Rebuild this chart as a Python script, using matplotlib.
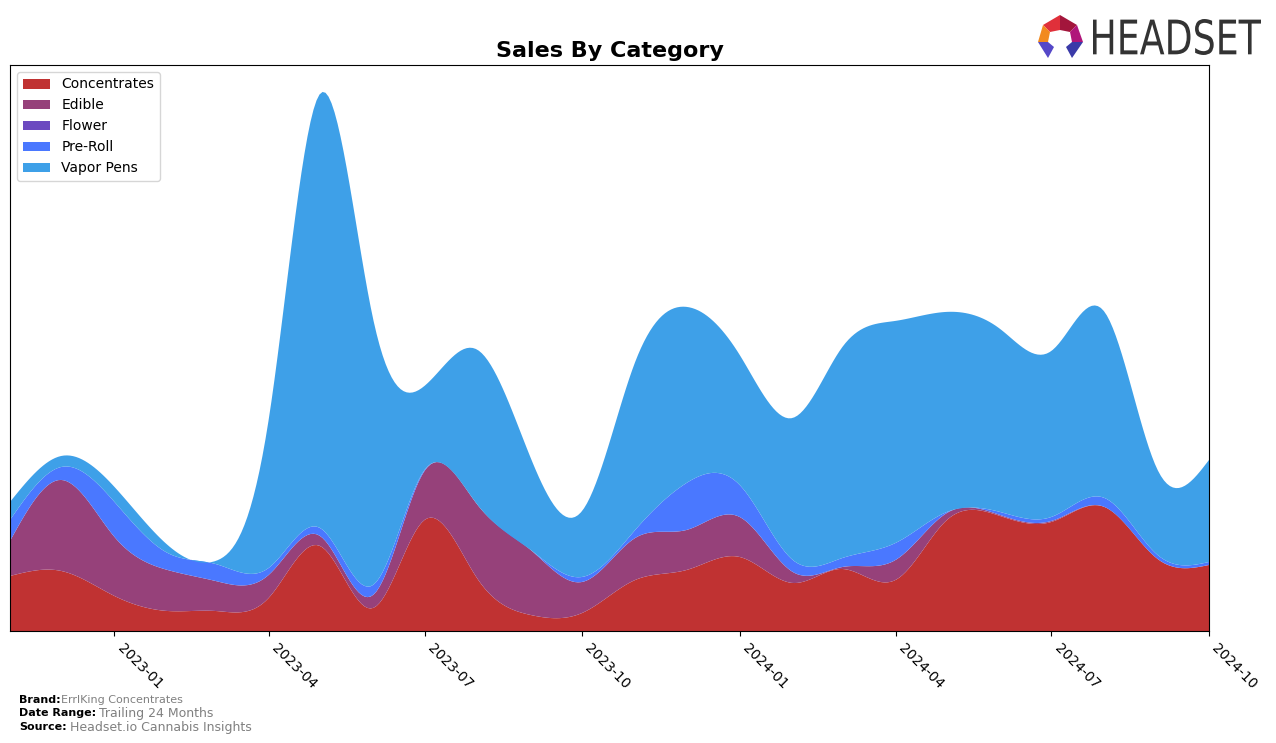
import numpy as np
import matplotlib
matplotlib.use("Agg")
import matplotlib.pyplot as plt
import matplotlib.dates as mdates
from matplotlib.textpath import TextPath
from matplotlib.patches import PathPatch, Polygon
from matplotlib.font_manager import FontProperties
from matplotlib.transforms import Affine2D

# monthly sales (arbitrary units), 2022-11 .. 2024-10
months = np.arange(np.datetime64("2022-11"), np.datetime64("2024-11"), dtype="datetime64[M]")
categories = ["Concentrates", "Edible", "Flower", "Pre-Roll", "Vapor Pens"]
concentrates = [55, 60, 35, 20, 20, 33, 85, 23, 111, 52, 16, 18,
                51, 61, 74, 48, 62, 51, 111, 115, 109, 124, 72, 66]
edible = [35, 91, 59, 41, 30, 23, 10, 13, 49, 74, 65, 31,
          42, 40, 40, 11, 2, 20, 7, 1, 1, 0, 0, 0]
flower = [0] * 24
pre_roll = [21, 13, 35, 17, 17, 7, 8, 10, 1, 0, 0, 5,
            8, 47, 32, 12, 9, 17, 1, 3, 4, 9, 4, 3]
vapor_pens = [18, 11, 15, 8, 3, 148, 434, 266, 84, 155, 92, 66,
              168, 176, 130, 142, 211, 222, 200, 183, 166, 186, 85, 102]
colors = ["#c03232", "#96417a", "#6c4ac0", "#4a78ff", "#3ea0e8"]


def natural_spline(x, y, xs):
    x = np.asarray(x, float)
    y = np.asarray(y, float)
    n = len(x)
    h = np.diff(x)
    A = np.zeros((n, n))
    b = np.zeros(n)
    A[0, 0] = A[-1, -1] = 1
    for i in range(1, n - 1):
        A[i, i - 1] = h[i - 1]
        A[i, i] = 2 * (h[i - 1] + h[i])
        A[i, i + 1] = h[i]
        b[i] = 6 * ((y[i + 1] - y[i]) / h[i] - (y[i] - y[i - 1]) / h[i - 1])
    M = np.linalg.solve(A, b)
    idx = np.clip(np.searchsorted(x, xs) - 1, 0, n - 2)
    x0, x1 = x[idx], x[idx + 1]
    hh = x1 - x0
    t0, t1 = x1 - xs, xs - x0
    return (M[idx] * t0 ** 3 / (6 * hh) + M[idx + 1] * t1 ** 3 / (6 * hh)
            + (y[idx] / hh - M[idx] * hh / 6) * t0
            + (y[idx + 1] / hh - M[idx + 1] * hh / 6) * t1)


xnum = mdates.date2num(months.astype("datetime64[D]"))
xs = np.linspace(xnum[0], xnum[-1], 400)
series = [concentrates, edible, flower, pre_roll, vapor_pens]
smooth = [natural_spline(xnum, s, xs) for s in series]

fig = plt.figure(figsize=(12.76, 7.43), dpi=100)
ax = fig.add_axes([10 / 1276, 1 - 631 / 743, 1199 / 1276, 566 / 743])
ax.stackplot(xs, *smooth, labels=categories, colors=colors)

total = np.sum(smooth, axis=0)
ax.set_xlim(xnum[0], xnum[-1])
ax.set_ylim(0, total.max() * 1.05)
ax.set_yticks([])
ax.xaxis.set_major_locator(mdates.MonthLocator(bymonth=[1, 4, 7, 10]))
ax.xaxis.set_major_formatter(mdates.DateFormatter("%Y-%m"))
for lab in ax.get_xticklabels():
    lab.set_rotation(-45)
    lab.set_ha("left")
ax.tick_params(axis="x", labelsize=10)
ax.set_title("Sales By Category", fontsize=16, fontweight="bold")
ax.legend(loc="upper left", fontsize=10)

# footer
fig.text(19 / 1276, 1 - 700 / 743, "Brand:", fontsize=8, fontweight="bold", va="center")
fig.text(61 / 1276, 1 - 700 / 743, "ErrlKing Concentrates", fontsize=8, color="gray", va="center")
fig.text(19 / 1276, 1 - 713 / 743, "Date Range:", fontsize=8, fontweight="bold", va="center")
fig.text(99 / 1276, 1 - 713 / 743, "Trailing 24 Months", fontsize=9, color="gray", va="center")
fig.text(19 / 1276, 1 - 727 / 743, "Source:", fontsize=8, fontweight="bold", va="center")
fig.text(70 / 1276, 1 - 727 / 743, "Headset.io Cannabis Insights", fontsize=9, color="gray", va="center")

# logo
tp = TextPath((0, 0), "HEADSET", size=40, prop=FontProperties(family="DejaVu Sans"))
bb = tp.get_extents()
sx = 168 / bb.width
sy = 36 / bb.height
tr = Affine2D().translate(-bb.x0, -bb.y0).scale(sx, sy).translate(1093, 743 - 55)
fig.patches.append(PathPatch(tp, transform=tr, color="#333333", lw=0))
icon = [
    ([(1043, 25), (1060, 15), (1060, 30), (1050, 32)], "#e0303a"),
    ([(1060, 15), (1077, 25), (1070, 32), (1060, 30)], "#a3163c"),
    ([(1077, 25), (1083, 42), (1072, 42), (1070, 32)], "#b0167a"),
    ([(1043, 25), (1050, 32), (1048, 42), (1038, 42)], "#f28a1e"),
    ([(1038, 42), (1048, 42), (1054, 47), (1048, 58)], "#5548c8"),
    ([(1083, 42), (1072, 42), (1066, 47), (1072, 58)], "#3a3aa8"),
]
for pts, c in icon:
    fig.patches.append(Polygon([(px, 743 - py) for px, py in pts], closed=True,
                               transform=None, color=c, lw=0))

fig.savefig("out.png", dpi=100)
